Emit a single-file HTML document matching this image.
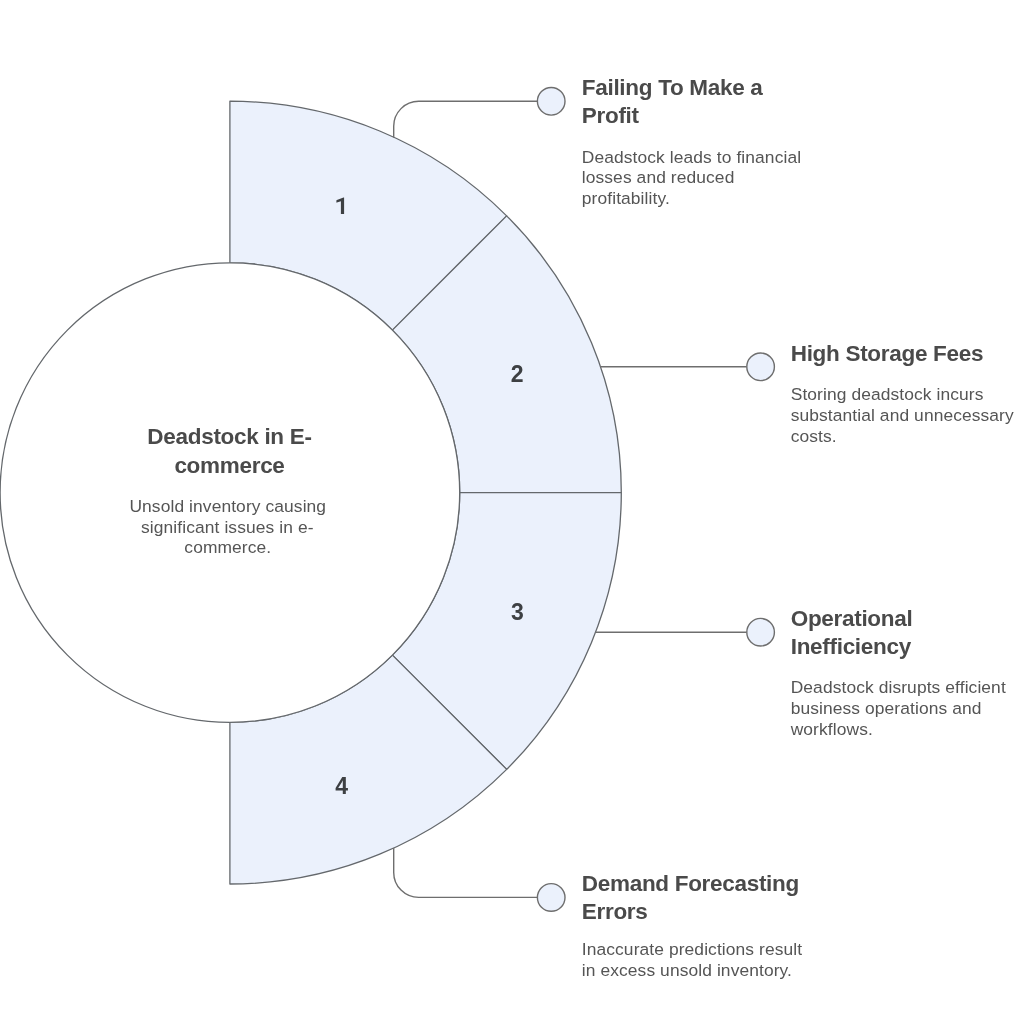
<!DOCTYPE html>
<html>
<head>
<meta charset="utf-8">
<style>
html,body{margin:0;padding:0;background:#ffffff;}
body{width:1024px;height:1024px;overflow:hidden;position:relative;}
svg{position:absolute;left:0;top:0;will-change:transform;}
.t{font-family:"Liberation Sans",sans-serif;font-weight:bold;font-size:22.5px;fill:#4a4a4a;letter-spacing:-0.3px;}
.b{font-family:"Liberation Sans",sans-serif;font-size:17.4px;fill:#555555;letter-spacing:0.1px;}
.n{font-family:"Liberation Sans",sans-serif;font-weight:bold;font-size:23px;fill:#3d4043;}
</style>
</head>
<body>
<svg width="1024" height="1024" viewBox="0 0 1024 1024">
  <g fill="#ebf1fc" stroke="#64686c" stroke-width="1.3" stroke-linejoin="round">
    <path d="M229.90 101.20 A391.4 391.4 0 0 1 506.66 215.84 L392.39 330.11 A229.8 229.8 0 0 0 229.90 262.80 Z"/>
    <path d="M506.66 215.84 A391.4 391.4 0 0 1 621.30 492.60 L459.70 492.60 A229.8 229.8 0 0 0 392.39 330.11 Z"/>
    <path d="M621.30 492.60 A391.4 391.4 0 0 1 506.66 769.36 L392.39 655.09 A229.8 229.8 0 0 0 459.70 492.60 Z"/>
    <path d="M506.66 769.36 A391.4 391.4 0 0 1 229.90 884.00 L229.90 722.40 A229.8 229.8 0 0 0 392.39 655.09 Z"/>
  </g>
  <circle cx="229.9" cy="492.6" r="229.8" fill="#ffffff" stroke="#64686c" stroke-width="1.3"/>

  <!-- connectors -->
  <g fill="none" stroke="#6e6e6e" stroke-width="1.4">
    <path d="M393.7 137.5 L393.7 126.3 A25 25 0 0 1 418.7 101.3 L537.4 101.3"/>
    <path d="M600 366.8 L746.8 366.8"/>
    <path d="M596 632.2 L746.8 632.2"/>
    <path d="M393.7 848 L393.7 872.4 A25 25 0 0 0 418.7 897.4 L537.4 897.4"/>
  </g>
  <g fill="#ebf1fc" stroke="#6e6e6e" stroke-width="1.4">
    <circle cx="551.2" cy="101.3" r="13.8"/>
    <circle cx="760.6" cy="366.8" r="13.8"/>
    <circle cx="760.6" cy="632.2" r="13.8"/>
    <circle cx="551.2" cy="897.4" r="13.8"/>
  </g>

  <!-- numbers -->
  <path d="M340.9 214.1 L344.1 214.1 L344.1 197.5 L343.5 197.5 L336.9 199.9 Q336.4 200.1 336.4 200.6 L336.4 202.3 Q336.4 202.8 336.9 202.6 L340.9 201.2 Z" fill="#3d4043"/>
  <text class="n" x="517.2" y="382" text-anchor="middle">2</text>
  <text class="n" x="517.4" y="619.5" text-anchor="middle">3</text>
  <text class="n" x="341.6" y="794" text-anchor="middle">4</text>

  <!-- center -->
  <text class="t" x="229.5" y="444.4" text-anchor="middle">Deadstock in E-</text>
  <text class="t" x="229.5" y="472.5" text-anchor="middle">commerce</text>
  <text class="b" x="227.8" y="512" text-anchor="middle">Unsold inventory causing</text>
  <text class="b" x="227.3" y="532.5" text-anchor="middle">significant issues in e-</text>
  <text class="b" x="227.8" y="553" text-anchor="middle">commerce.</text>

  <!-- item 1 -->
  <text class="t" x="581.8" y="95.2">Failing To Make a</text>
  <text class="t" x="581.8" y="123.2">Profit</text>
  <text class="b" x="581.8" y="162.5">Deadstock leads to financial</text>
  <text class="b" x="581.8" y="183.4">losses and reduced</text>
  <text class="b" x="581.8" y="204.3">profitability.</text>

  <!-- item 2 -->
  <text class="t" x="790.7" y="361">High Storage Fees</text>
  <text class="b" x="790.7" y="400.3">Storing deadstock incurs</text>
  <text class="b" x="790.7" y="421.2">substantial and unnecessary</text>
  <text class="b" x="790.7" y="442.1">costs.</text>

  <!-- item 3 -->
  <text class="t" x="790.7" y="626">Operational</text>
  <text class="t" x="790.7" y="654">Inefficiency</text>
  <text class="b" x="790.7" y="692.7">Deadstock disrupts efficient</text>
  <text class="b" x="790.7" y="713.6">business operations and</text>
  <text class="b" x="790.7" y="734.5">workflows.</text>

  <!-- item 4 -->
  <text class="t" x="581.8" y="891.4">Demand Forecasting</text>
  <text class="t" x="581.8" y="919.4">Errors</text>
  <text class="b" x="581.8" y="954.6">Inaccurate predictions result</text>
  <text class="b" x="581.8" y="975.5">in excess unsold inventory.</text>
</svg>
</body>
</html>
